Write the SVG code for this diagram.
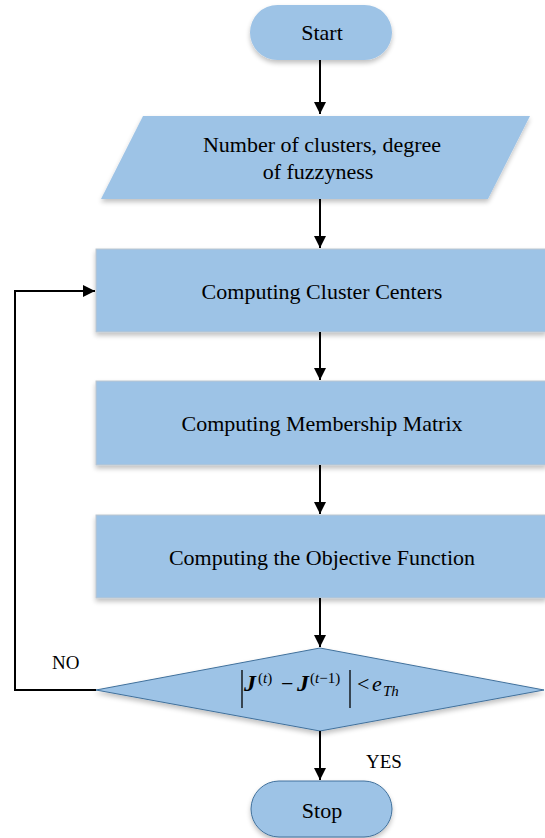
<svg xmlns="http://www.w3.org/2000/svg" width="545" height="838" viewBox="0 0 545 838">
<style>
.n{fill:#9dc3e6;filter:url(#sh)}
.b{stroke:#bcc6d0;stroke-width:1}
.d{stroke:#41719c;stroke-width:1}
text{font-family:"Liberation Serif","Times New Roman",serif;font-size:22px;fill:#000}
.t{text-anchor:middle}
.c{stroke:#000;stroke-width:2;fill:none}
.i{font-style:italic}
.s{font-size:15px}
.m{font-size:22px}
.j{font-size:24px;font-weight:bold;font-style:italic}
.l{font-size:19px}
</style>
<defs>
<filter id="sh" x="-10%" y="-20%" width="120%" height="150%">
<feGaussianBlur in="SourceAlpha" stdDeviation="2.5"/>
<feOffset dx="0" dy="3" result="o"/>
<feComponentTransfer><feFuncA type="linear" slope="0.25"/></feComponentTransfer>
<feMerge><feMergeNode/><feMergeNode in="SourceGraphic"/></feMerge>
</filter>
<marker id="a" viewBox="0 0 10 10" refX="10" refY="5" markerWidth="6" markerHeight="6" markerUnits="strokeWidth" orient="auto">
<path d="M0,0 L10,5 L0,10 z" fill="#000"/>
</marker>
</defs>
<g id="start"><rect class="n" x="250" y="5" width="142" height="55" rx="27.5"/><text class="t" x="322" y="40">Start</text></g>
<g id="params"><polygon class="n" points="143,116 530,116 488,199 101,199"/><text class="t" x="322" y="152">Number of clusters, degree</text><text class="t" x="318" y="179">of fuzzyness</text></g>
<g id="centers"><rect class="n b" x="96" y="249" width="450" height="83"/><text class="t" x="322" y="299">Computing Cluster Centers</text></g>
<g id="membership"><rect class="n b" x="96" y="381" width="450" height="84"/><text class="t" x="322" y="431">Computing Membership Matrix</text></g>
<g id="objective"><rect class="n b" x="96" y="515" width="450" height="83"/><text class="t" x="322" y="565">Computing the Objective Function</text></g>
<g id="check"><polygon class="n d" points="320,648 544,690 320,731 96,690"/>
<line x1="242" y1="670" x2="242" y2="708" stroke="#000" stroke-width="1.3"/>
<line x1="350" y1="670" x2="350" y2="708" stroke="#000" stroke-width="1.3"/>
<text class="j" x="244" y="691">J</text>
<text class="s" x="258" y="683">(<tspan class="i">t</tspan>)</text>
<text class="m" x="281" y="691">−</text>
<text class="j" x="297" y="691">J</text>
<text class="s" x="310" y="683">(<tspan class="i">t</tspan>−1)</text>
<text class="m" x="357" y="691">&lt;</text>
<text class="m i" x="372" y="691">e</text>
<text class="s i" x="383" y="696">Th</text>
</g>
<g id="stop"><rect class="n d" x="251" y="781" width="141" height="56" rx="28"/><text class="t" x="322" y="818">Stop</text></g>
<g id="connectors">
<line class="c" x1="320" y1="60" x2="320" y2="114" marker-end="url(#a)"/>
<line class="c" x1="320" y1="199" x2="320" y2="248" marker-end="url(#a)"/>
<line class="c" x1="320" y1="332" x2="320" y2="380" marker-end="url(#a)"/>
<line class="c" x1="320" y1="465" x2="320" y2="514" marker-end="url(#a)"/>
<line class="c" x1="320" y1="598" x2="320" y2="647" marker-end="url(#a)"/>
<line class="c" x1="320" y1="731" x2="320" y2="780" marker-end="url(#a)"/>
<polyline class="c" points="96,690 15,690 15,291 95,291" marker-end="url(#a)"/>
<text class="l" x="52" y="669">NO</text>
<text class="l" x="366" y="768">YES</text>
</g>
</svg>
